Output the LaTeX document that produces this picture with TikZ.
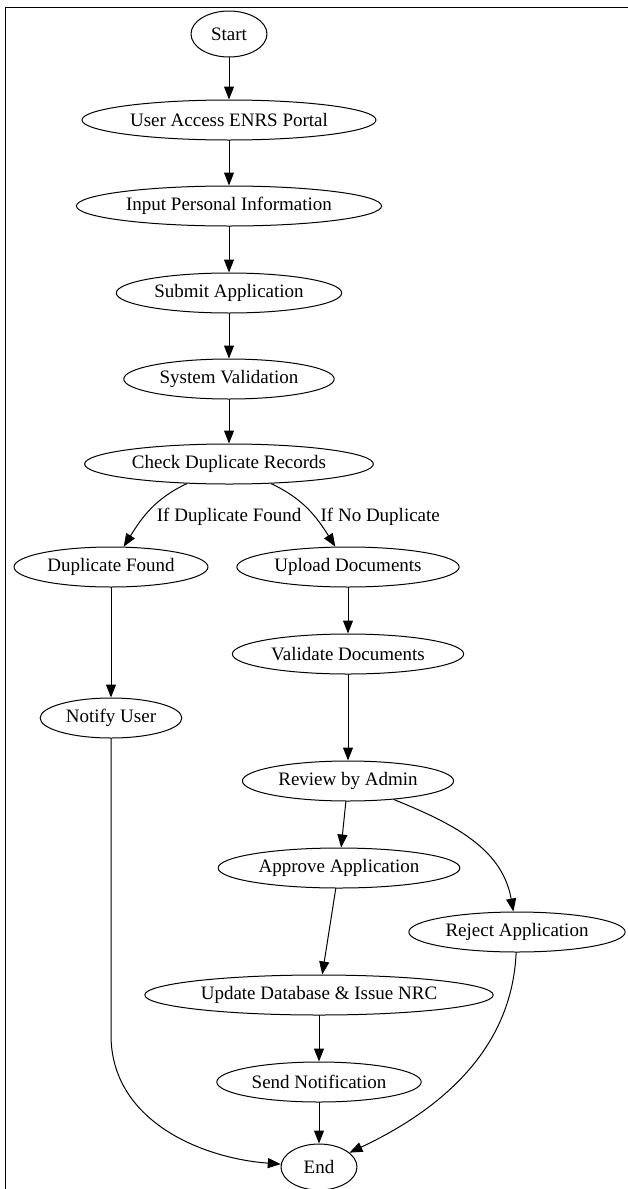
\documentclass[tikz,border=0pt]{standalone}
\usepackage{fontspec}
\setmainfont{Liberation Serif}
\usepackage{tikz}
\tikzset{>=latex}
\usetikzlibrary{shapes,arrows.meta}

\begin{document}
\begin{tikzpicture}[line cap=round,line join=round,>={Triangle[length=13pt,width=10pt]},x=1pt,y=-1pt,
		line width=1pt,
		every node/.style={font=\fontsize{19}{22}\selectfont},
		proc/.style={ellipse,draw,minimum height=40pt,inner xsep=5pt,inner ysep=0pt},
		term/.style={proc,minimum width=76pt,minimum height=46pt}]
		\useasboundingbox (0,0) rectangle (628,1189);
		\draw (5,1189) -- (5,7) -- (628,7);
		% main line
		\node[term] (start) at (229,34) {Start};
		\node[proc] (portal) at (229,120) {User Access ENRS Portal};
		\node[proc] (info) at (229,206) {Input Personal Information};
		\node[proc] (submit) at (229,293) {Submit Application};
		\node[proc] (sysval) at (229,379) {System Validation};
		\node[proc] (check) at (229,464) {Check Duplicate Records};
		% branches
		\node[proc] (dupfound) at (111,567) {Duplicate Found};
		\node[proc] (notify) at (111,718) {Notify User};
		\node[proc] (upload) at (348,567) {Upload Documents};
		\node[proc] (valdocs) at (348,654) {Validate Documents};
		\node[proc] (review) at (348,781) {Review by Admin};
		\node[proc] (approve) at (339,868) {Approve Application};
		\node[proc] (reject) at (517,932) {Reject Application};
		\node[proc] (update) at (319,995) {Update Database \& Issue NRC};
		\node[proc] (send) at (319,1082) {Send Notification};
		\node[term] (finish) at (319,1167) {End};
		\coordinate (bend) at (111,1035);
		
		\draw[->] (start) -- (portal);
		\draw[->] (portal) -- (info);
		\draw[->] (info) -- (submit);
		\draw[->] (submit) -- (sysval);
		\draw[->] (sysval) -- (check);
		\draw[->] (check) to[out=205,in=58] node[pos=0.5,anchor=west,inner sep=2pt,xshift=4pt,yshift=-7pt] {If Duplicate Found} (dupfound);
		\draw[->] (check) to[out=-25,in=122] node[pos=0.5,anchor=west,inner sep=2pt,xshift=10pt,yshift=-7pt] {If No Duplicate} (upload);
		\draw[->] (dupfound) -- (notify);
		\draw[->] (notify) -- (bend) .. controls (111,1120) and (200,1158) .. (finish);
		\draw[->] (upload) -- (valdocs);
		\draw[->] (valdocs) -- (review);
		\draw[->] (review) -- (approve);
		\draw[->] (review) to[out=-22,in=100] (reject);
		\draw[->] (approve) -- (update);
		\draw[->] (update) -- (send);
		\draw[->] (send) -- (finish);
		\draw[->] (reject) .. controls (512,1050) and (440,1110) .. (finish);
		
		\end{tikzpicture}
\end{document}
